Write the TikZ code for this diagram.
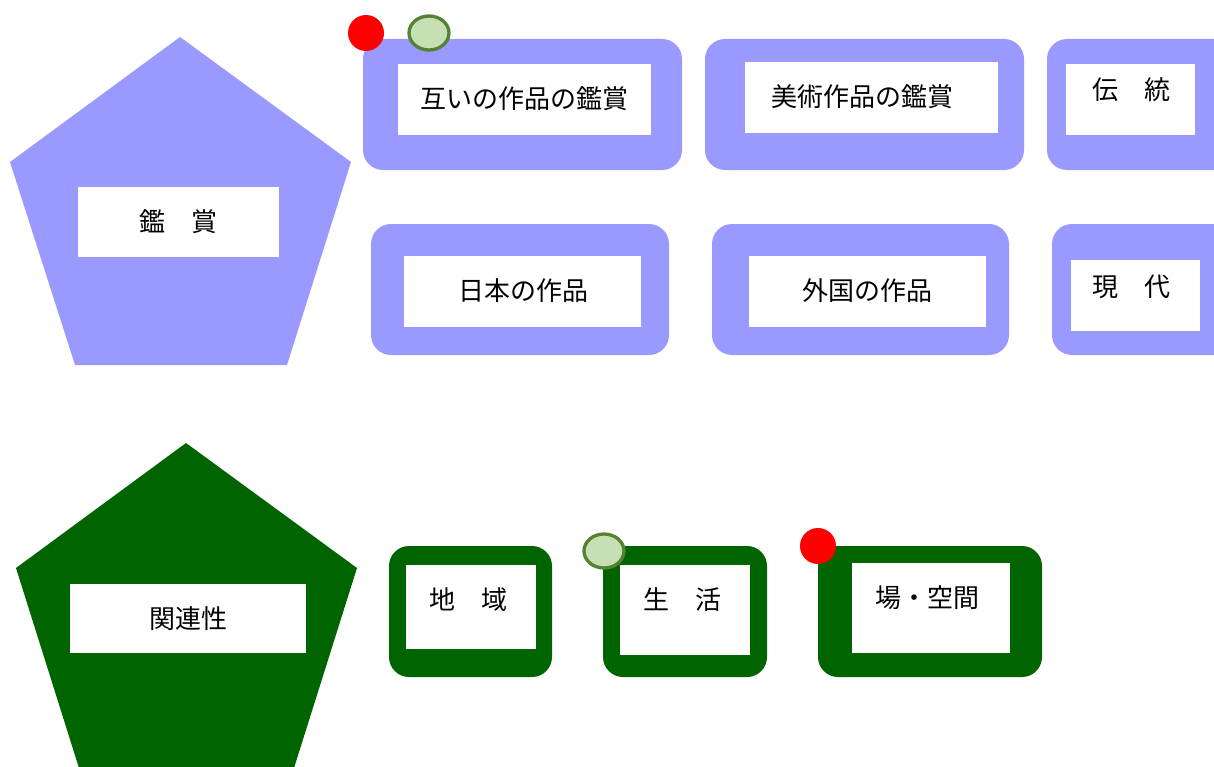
\documentclass[tikz,border=0pt]{standalone}
\usepackage{fontspec}
\newfontfamily\jp{Noto Sans CJK JP}
\definecolor{lav}{RGB}{153,153,255}
\definecolor{dgreen}{RGB}{0,100,0}
\definecolor{lgreen}{RGB}{198,224,180}
\definecolor{mgreen}{RGB}{84,130,53}
\begin{document}
\begin{tikzpicture}[x=0.75pt,y=-0.75pt,
  lbl/.style={font=\jp\fontsize{19.5pt}{22pt}\selectfont, text=black, inner sep=0pt},
  bluebox/.style={fill=lav, rounded corners=15pt},
  greenbox/.style={fill=dgreen, rounded corners=15pt},
  whitebox/.style={fill=white},
  reddot/.style={fill=red},
  greendot/.style={fill=lgreen, draw=mgreen, line width=2.5pt}]
\useasboundingbox (0,0) rectangle (1214,767);
\clip (0,0) rectangle (1214,767);
% pentagons
\fill[lav] (180,37) -- (351,162) -- (287,365) -- (75,365) -- (10,162) -- cycle;
\fill[whitebox] (78,187) rectangle (279,257);
\node[lbl] (kansho) at (178.5,222) {鑑　賞};
\fill[dgreen] (186,443) -- (357,568) -- (294,768) -- (79,768) -- (16,568) -- cycle;
\fill[whitebox] (70,584) rectangle (306,653);
\node[lbl] (kanren) at (188,619) {関連性};
% top row
\fill[bluebox] (363,39) rectangle (682,170);
\fill[whitebox] (398,64) rectangle (651,135);
\node[lbl] (b1) at (524.5,99) {互いの作品の鑑賞};
\fill[bluebox] (705,39) rectangle (1024,170);
\fill[whitebox] (745,62) rectangle (998,133);
\node[lbl] (b2) at (862,97) {美術作品の鑑賞};
\fill[bluebox] (1047,39) rectangle (1240,170);
\fill[whitebox] (1066,64) rectangle (1195,135);
\node[lbl] (b3) at (1131,90) {伝　統};
% second row
\fill[bluebox] (371,224) rectangle (669,355);
\fill[whitebox] (404,256) rectangle (641,327);
\node[lbl] (b4) at (523,291) {日本の作品};
\fill[bluebox] (712,224) rectangle (1009,355);
\fill[whitebox] (749,256) rectangle (986,327);
\node[lbl] (b5) at (867,291) {外国の作品};
\fill[bluebox] (1052,224) rectangle (1240,355);
\fill[whitebox] (1071,260) rectangle (1200,331);
\node[lbl] (b6) at (1131,287) {現　代};
% green row
\fill[greenbox] (389,546) rectangle (552,677);
\fill[whitebox] (406,565) rectangle (536,649);
\node[lbl] (g1) at (468,600) {地　域};
\fill[greenbox] (603,546) rectangle (767,677);
\fill[whitebox] (620,565) rectangle (750,655);
\node[lbl] (g2) at (682,600) {生　活};
\fill[greenbox] (818,546) rectangle (1042,677);
\fill[whitebox] (852,563) rectangle (1010,653);
\node[lbl] (g3) at (927,598) {場・空間};
% markers
\fill[reddot] (366,33) circle (18);
\path[greendot] (429,33) ellipse (20 and 17);
\path[greendot] (604,551) ellipse (20 and 17);
\fill[reddot] (818,546) circle (18);
\end{tikzpicture}
\end{document}
